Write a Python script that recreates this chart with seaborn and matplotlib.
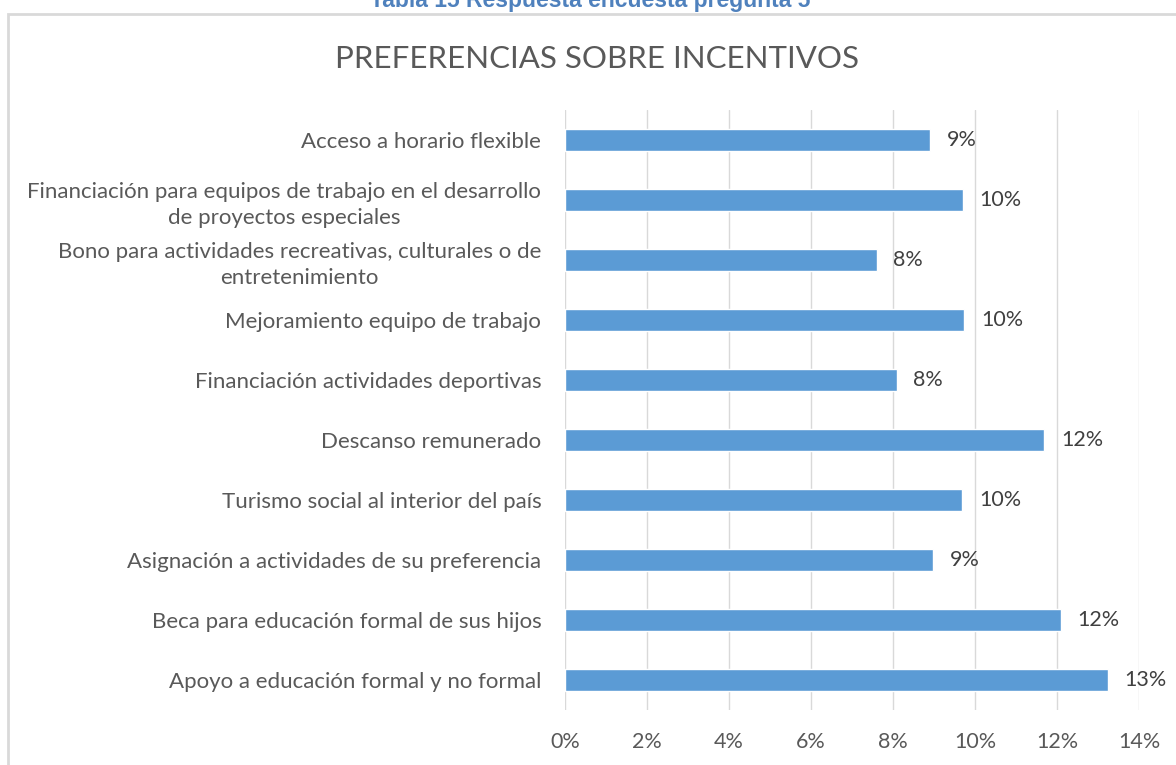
import matplotlib
matplotlib.use('Agg')
import matplotlib.pyplot as plt
import seaborn as sns
import pandas as pd
from matplotlib.patches import Rectangle
from matplotlib.ticker import PercentFormatter

categorias = [
    'Acceso a horario flexible',
    'Financiación para equipos de trabajo en el desarrollo\nde proyectos especiales',
    'Bono para actividades recreativas, culturales o de\nentretenimiento',
    'Mejoramiento equipo de trabajo',
    'Financiación actividades deportivas',
    'Descanso remunerado',
    'Turismo social al interior del país',
    'Asignación a actividades de su preferencia',
    'Beca para educación formal de sus hijos',
    'Apoyo a educación formal y no formal',
]
porcentajes = [8.9, 9.7, 7.6, 9.74, 8.09, 11.69, 9.69, 8.98, 12.09, 13.24]
x_ticks = [0, 2, 4, 6, 8, 10, 12, 14]

df = pd.DataFrame({'categoria': categorias, 'pct': porcentajes})

sns.set_style('white')
plt.rcParams['font.family'] = ['Lato', 'DejaVu Sans']

gray_text = '#595959'
bar_color = '#5B9BD5'

fig = plt.figure(figsize=(11.76, 7.65), dpi=100)
ax = fig.add_axes([0.4804, 0.072, 0.4881, 0.784])

sns.barplot(data=df, x='pct', y='categoria', orient='h', color=bar_color,
            width=0.37, saturation=1, ax=ax, zorder=3)

ax.set_xlim(0, 14)
ax.set_xticks(x_ticks)
ax.xaxis.set_major_formatter(PercentFormatter(decimals=0))
ax.grid(axis='x', color='#D9D9D9', linewidth=1, zorder=0)
ax.set_axisbelow(True)
for s in ax.spines.values():
    s.set_visible(False)
ax.set_xlabel('')
ax.set_ylabel('')
ax.tick_params(axis='x', length=0, pad=16, labelsize=15.5, labelcolor=gray_text)
ax.tick_params(axis='y', length=0, pad=17, labelsize=16, labelcolor=gray_text)
for lbl in ax.get_yticklabels():
    lbl.set_multialignment('center')
    lbl.set_linespacing(1.35)

for i, v in enumerate(porcentajes):
    ax.annotate(f'{round(v):.0f}%', xy=(v, i), xytext=(12, 0),
                textcoords='offset points', va='center', ha='left',
                fontsize=15.5, color='#404040')

fig.text(0.508, 0.923, 'PREFERENCIAS SOBRE INCENTIVOS', ha='center', va='center',
         fontsize=22.5, color=gray_text)

# borde del grafico y titulo de la tabla recortado
fig.patches.append(Rectangle((8 / 1176, -0.01), 1.1, 1 - 14 / 765 + 0.01,
                             transform=fig.transFigure, fill=False,
                             edgecolor='#D9D9D9', linewidth=2))
fig.text(0.502, 1.0, 'Tabla 15 Respuesta encuesta pregunta 5', ha='center',
         va='center', fontsize=16.5, fontweight='bold', color='#4F81BD',
         family=['Liberation Sans', 'DejaVu Sans'])

fig.savefig('out.png', dpi=100)
